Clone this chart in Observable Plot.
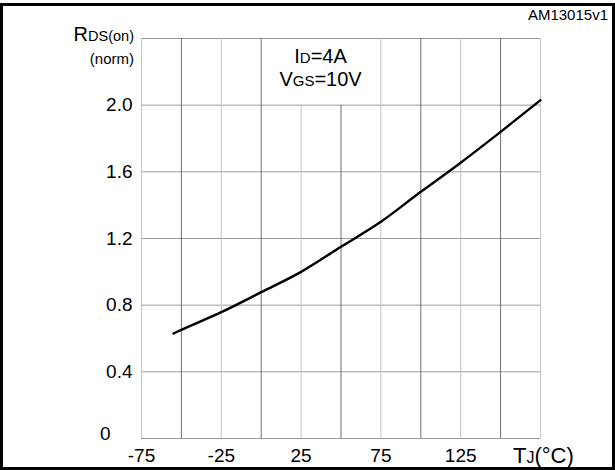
<!DOCTYPE html>
<html>
<head>
<meta charset="utf-8">
<script src="https://cdn.jsdelivr.net/npm/d3@7"></script>
<script src="https://cdn.jsdelivr.net/npm/@observablehq/plot@0.6"></script>
<style>
  html, body { margin: 0; padding: 0; background: #fff; }
  #wrap { position: relative; width: 615px; height: 470px; overflow: hidden; }
  #border { position: absolute; left: 0; top: 3px; width: 615px; height: 467px; box-sizing: border-box; border: 3px solid #000; pointer-events: none; }
</style>
</head>
<body>
<div id="wrap"><div id="border"></div></div>
<script>
// Data
const tempC   = [-55, -50, -25, 0, 25, 50, 75, 100, 125, 150, 175];
const rdsNorm = [0.63, 0.652, 0.758, 0.878, 1.0, 1.15, 1.30, 1.48, 1.655, 1.84, 2.03];

const xTicks = [-75, -25, 25, 75, 125];
const yTicks = [0.4, 0.8, 1.2, 1.6, 2.0];
const yGrid = [0, 0.4, 0.8, 1.2, 1.6, 2.0, 2.4];
const gridMinorX = [-75, -25, 25, 75, 125, 175];
const gridMajorX = [-50, 0, 50, 100, 150];

const pts = tempC.map((t, i) => ({t, r: rdsNorm[i]}));
const boxTop = (d) => (d > 0 && d < 75) ? 2.0 : 2.4;

const chart = Plot.plot({
  width: 615,
  height: 470,
  marginLeft: 141,
  marginRight: 75,
  marginTop: 38,
  marginBottom: 32,
  x: {domain: [-75, 175], label: null},
  y: {domain: [0, 2.4], label: null},
  style: {fontFamily: "'Liberation Sans', Arial, sans-serif", fontSize: "19px", color: "#000", background: "#fff"},
  marks: [
    Plot.ruleY(yGrid, {stroke: "#9a9a9a", strokeWidth: 1, strokeOpacity: 1}),
    Plot.ruleX(gridMinorX, {x: d => d, y1: 0, y2: boxTop, stroke: "#c4c4c4", strokeWidth: 1}),
    Plot.ruleX(gridMajorX, {x: d => d, y1: 0, y2: boxTop, stroke: "#707070", strokeWidth: 1}),
    Plot.line(pts, {x: "t", y: "r", stroke: "#000", strokeWidth: 2.4, curve: "monotone-x"}),
    Plot.axisX({ticks: xTicks, tickSize: 0, tickPadding: 10, tickFormat: d => String(d), fontSize: 19, label: null}),
    Plot.axisY({ticks: yTicks, tickSize: 0, tickPadding: 9, tickFormat: d => d.toFixed(1), fontSize: 19, label: null}),
    Plot.text([0], {x: -75, y: d => d, text: d => String(d), textAnchor: "end", dx: -31, dy: -5, fontSize: 19})
  ]
});

document.getElementById("wrap").prepend(chart);

const xs = chart.scale("x"), ys = chart.scale("y");
const svg = d3.select(chart);
const ff = "'Liberation Sans', Arial, sans-serif";

function label(x, y, anchor, parts) {
  const t = svg.append("text").attr("x", x).attr("y", y).attr("text-anchor", anchor)
    .attr("font-family", ff).attr("fill", "#000");
  parts.forEach(([s, size]) => t.append("tspan").attr("font-size", size).text(s));
  return t;
}

// Y axis title
label(xs.apply(-75) - 7, ys.apply(2.4) + 3, "end", [["R", 20], ["DS(on)", 14.5]]);
label(xs.apply(-75) - 7, ys.apply(2.4) + 26, "end", [["(norm)", 15]]);
// Condition annotation
label(xs.apply(37.5), ys.apply(2.25), "middle", [["I", 20], ["D", 15], ["=4A", 20]]);
label(xs.apply(37.5), ys.apply(2.11), "middle", [["V", 20], ["GS", 15], ["=10V", 20]]);
// X axis title
label(xs.apply(175) - 27, 463, "start", [["T", 22], ["J", 16], ["(°C)", 22]]);
// Figure id
label(608, 20, "end", [["AM13015v1", 15]]);
</script>
</body>
</html>
